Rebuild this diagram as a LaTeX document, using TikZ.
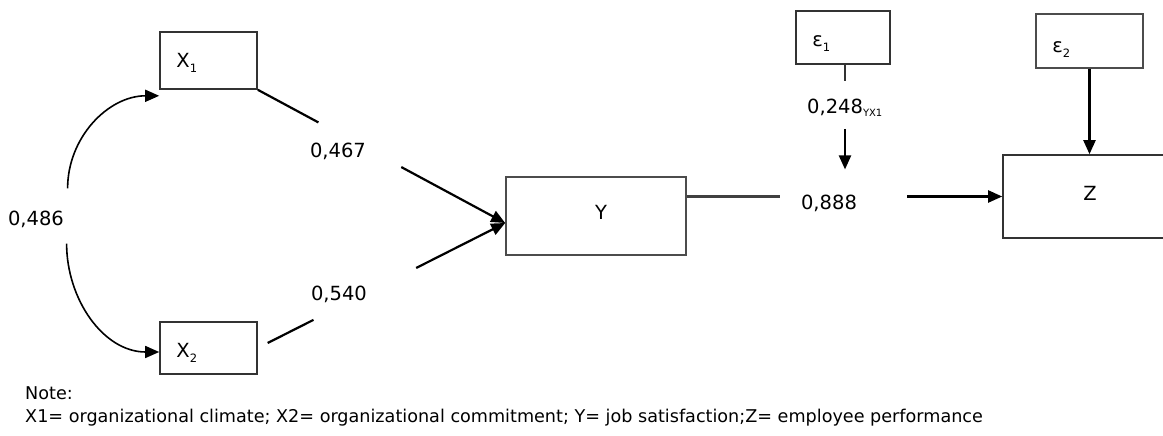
\documentclass[tikz,border=0pt]{standalone}
\usepackage{fontspec}
\setmainfont{DejaVu Sans}
\usepackage{tikz}
\usetikzlibrary{calc, positioning, arrows.meta}
\newcommand{\coefSize}{\fontsize{19.5}{23}\selectfont}
\newcommand{\noteSize}{\fontsize{17.6}{21}\selectfont}
\newcommand{\subIdx}[1]{\raisebox{-5pt}{\fontsize{11.5}{11.5}\selectfont #1}}
\tikzset{
    varBox/.style={rectangle, draw=black!80, line width=1.6pt, fill=white, inner sep=0pt},
    tag/.style={inner sep=0pt, font=\coefSize},
    coef/.style={inner sep=0pt, font=\coefSize},
    link/.style={line width=2.2pt},
    arrow/.style={-{Triangle[length=14pt, width=12pt]}, line width=2.2pt},
    corr/.style={-{Triangle[length=14pt, width=12pt]}, line width=1.6pt},
    note/.style={inner sep=0pt, font=\noteSize, anchor=west}
}

\begin{document}
\begin{tikzpicture}[x=1pt, y=1pt]
    \clip (0,0) rectangle (1163,436);

    % Exogenous variables
    \node[varBox, minimum width=97pt, minimum height=57pt,
        label={[tag, anchor=base west, xshift=17pt, yshift=-7.5pt]west:X\subIdx{1}}] (X1) at (208.5,375.5) {};
    \node[varBox, minimum width=97pt, minimum height=52pt,
        label={[tag, anchor=base west, xshift=17pt, yshift=-10pt]west:X\subIdx{2}}] (X2) at (208.5,88) {};

    % Mediator and outcome
    \node[varBox, draw=black!70, minimum width=180pt, minimum height=78pt,
        label={[tag, anchor=base, xshift=5pt, yshift=4pt]center:Y}] (Y) at (596,220) {};
    \node[varBox, minimum width=170pt, minimum height=83pt,
        label={[tag, anchor=base, xshift=2pt, yshift=3.5pt]center:Z}] (Z) at (1088,239.5) {};

    % Residuals
    \node[varBox, minimum width=94pt, minimum height=53pt,
        label={[tag, anchor=base west, xshift=17pt, yshift=-9.5pt]west:ε\subIdx{1}}] (E1) at (843,398.5) {};
    \node[varBox, draw=black!70, minimum width=107pt, minimum height=54pt,
        label={[tag, anchor=base west, xshift=17pt, yshift=-12pt]west:ε\subIdx{2}}] (E2) at (1089.5,395) {};

    % Path coefficients
    \node[coef] (l486) at (36,217) {0,486};
    \node[coef] (l467) at (338,285) {0,467};
    \node[coef] (l540) at (339,142) {0,540};
    \node[coef] (l888) at (829,233) {0,888};
    \node[coef] (l248) at (845,328) {0,248\textsubscript{\fontsize{10}{10}\selectfont YX1}};

    \coordinate (Ytip) at ([yshift=-7pt]Y.west);

    % Correlation between X1 and X2
    \draw[corr] ([xshift=3.5pt, yshift=22pt]l486.north east) to[out=90, in=180] ([yshift=-6pt]X1.south west);
    \draw[corr] ([xshift=2.5pt, yshift=-16pt]l486.south east) to[out=-90, in=180] ([yshift=-4pt]X2.west);

    % X1, X2 -> Y
    \draw[link] (X1.south east) -- ($(X1.south east)!0.245!(Ytip)$);
    \draw[arrow] ($(X1.south east)!0.58!(Ytip)$) -- (Ytip);
    \draw[link] ($(X2.east)!0.04!(Ytip)$) -- ($(X2.east)!0.225!(Ytip)$);
    \draw[arrow] ($(X2.east)!0.64!(Ytip)$) -- (Ytip);

    % Y -> Z
    \draw[link, draw=black!75] (Y.east |- Z.west) -- ([xshift=-21pt]l888.west |- Z.west);
    \draw[arrow] ([xshift=50pt]l888.east |- Z.west) -- (Z.west);

    % Residual paths
    \draw[link, draw=black!80] (E1.south -| l248.north) -- ([yshift=18pt]l248.north);
    \draw[arrow] ([yshift=-12pt]l248.south) -- ([yshift=25pt]l888.north -| l248.south);
    \draw[arrow] (E2.south) -- (E2.south |- Z.north);

    % Note
    \node[note] (noteHead) at (25,43) {Note:};
    \node[note, below=9pt of noteHead.south west, anchor=north west] (noteBody)
        {X1= organizational climate; X2= organizational commitment; Y= job satisfaction;Z= employee performance};
\end{tikzpicture}
\end{document}
